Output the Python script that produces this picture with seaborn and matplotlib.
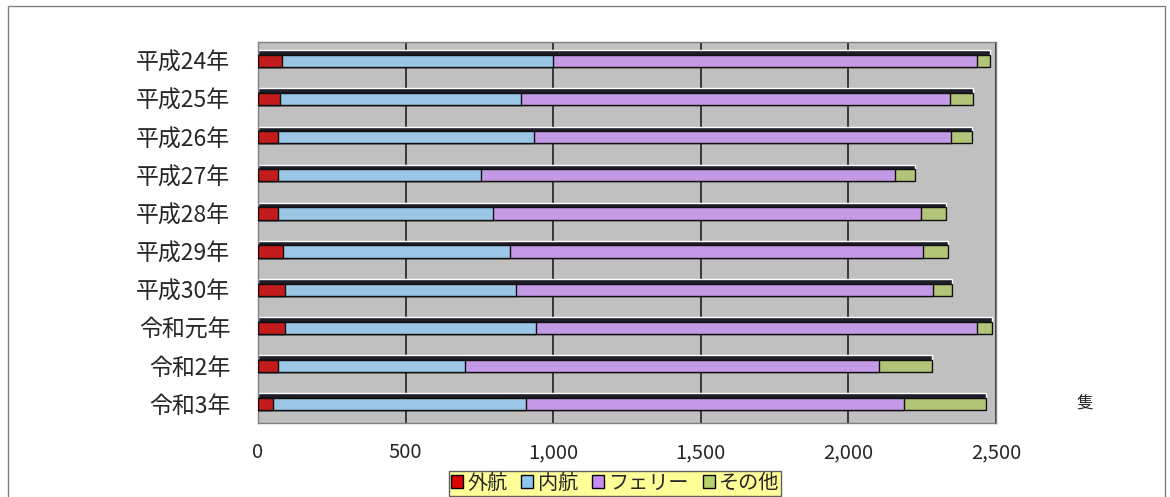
import numpy as np
import pandas as pd
import matplotlib
matplotlib.use("Agg")
import matplotlib.pyplot as plt
import matplotlib.patches as mpatches
import seaborn as sns

# values (隻)
years = ["平成24年", "平成25年", "平成26年", "平成27年", "平成28年",
         "平成29年", "平成30年", "令和元年", "令和2年", "令和3年"]
gaiko = [82, 75, 68, 68, 68, 86, 93, 91, 68, 50]
naiko = [919, 815, 868, 686, 727, 768, 781, 851, 634, 858]
ferry = [1435, 1453, 1412, 1405, 1451, 1398, 1412, 1494, 1401, 1279]
sonota = [44, 78, 70, 66, 84, 84, 66, 50, 181, 279]

series = ["外航", "内航", "フェリー", "その他"]
colors = ["#E00000", "#8EC8F2", "#C68CF2", "#B8D16A"]

sns.set_theme(style="white")
plt.rcParams["font.family"] = ["Noto Sans CJK JP", "DejaVu Sans"]

df = pd.DataFrame({"year": years, "外航": gaiko, "内航": naiko,
                   "フェリー": ferry, "その他": sonota})
# cumulative ends for stacked bars
cum = df[series].cumsum(axis=1)

fig = plt.figure(figsize=(11.7, 4.97), dpi=100)
ax = fig.add_axes([258 / 1170, 1 - 423 / 497, 738 / 1170, 381 / 497])
ax.set_facecolor("#C0C0C0")

# dark top face (3D look), drawn behind everything
ax.barh(np.arange(len(years)) - 0.08, cum["その他"], height=0.4,
        color="#1E1E2A", zorder=2)

for s, c in reversed(list(zip(series, colors))):
    sns.barplot(x=cum[s], y=df["year"], orient="h", color=c, width=0.32,
                edgecolor="#101010", linewidth=1.0, ax=ax, zorder=3)

ax.set_xlim(0, 2500)
ax.set_ylim(len(years) - 0.5, -0.5)
ax.set_xticks(range(0, 2501, 500))
ax.set_xticklabels([f"{v:,}" for v in range(0, 2501, 500)])
ax.xaxis.grid(True, color="#202020", linewidth=1.2, zorder=1)
ax.set_axisbelow(True)
ax.set_xlabel("")
ax.set_ylabel("")
ax.tick_params(axis="y", labelsize=16.5, pad=20, length=0)
ax.tick_params(axis="x", labelsize=14.5, pad=14, length=0)
for sp in ax.spines.values():
    sp.set_color("#808080")
    sp.set_linewidth(1.0)

fig.text(1085 / 1170, 1 - 403 / 497, "隻", fontsize=12, ha="center", va="center")

# outer frame
fig.patches.append(mpatches.Rectangle((8 / 1170, -0.02), 1157 / 1170, 1 - 6 / 497 + 0.02,
                                      transform=fig.transFigure, fill=False,
                                      edgecolor="#808080", linewidth=1.0))

handles = [mpatches.Patch(facecolor=c, edgecolor="black", label=s)
           for s, c in zip(series, colors)]
leg = fig.legend(handles=handles, loc="lower center", bbox_to_anchor=(615 / 1170, 0.0),
                 ncol=4, frameon=True, fontsize=14.5, handlelength=0.6, handleheight=0.6,
                 handletextpad=0.2, columnspacing=0.7, borderpad=0.1, fancybox=False,
                 borderaxespad=0.05)
leg.get_frame().set_facecolor("#FFFF99")
leg.get_frame().set_edgecolor("#606060")
leg.get_frame().set_alpha(1)

fig.savefig("out.png", dpi=100)
